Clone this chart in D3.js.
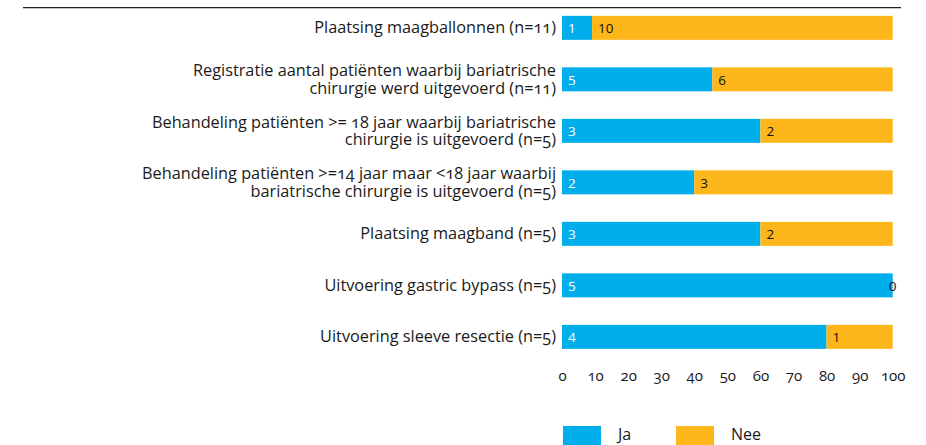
<!DOCTYPE html>
<html>
<head>
<meta charset="utf-8">
<script src="https://cdn.jsdelivr.net/npm/d3@7"></script>
<style>
  html, body { margin: 0; padding: 0; background: #fff; }
  svg { display: block; font-family: "Open Sans", "Noto Sans", sans-serif; }
  .cat, .tick text, .legend text { font-variant-numeric: oldstyle-nums; font-feature-settings: "onum" 1; }
</style>
</head>
<body>
<svg id="chart" width="926" height="445"></svg>
<script>
// Bariatric surgery indicators: number of hospitals answering "Ja" / "Nee"
const categories = [
  "Plaatsing maagballonnen (n=11)",
  "Registratie aantal patiënten waarbij bariatrische\nchirurgie werd uitgevoerd (n=11)",
  "Behandeling patiënten >= 18 jaar waarbij bariatrische\nchirurgie is uitgevoerd (n=5)",
  "Behandeling patiënten >=14 jaar maar <18 jaar waarbij\nbariatrische chirurgie is uitgevoerd (n=5)",
  "Plaatsing maagband (n=5)",
  "Uitvoering gastric bypass (n=5)",
  "Uitvoering sleeve resectie (n=5)"
];
const jaCounts  = [1, 5, 3, 2, 3, 5, 4];
const neeCounts = [10, 6, 2, 3, 2, 0, 1];
const seriesNames = ["Ja", "Nee"];
const seriesColors = ["#01aeec", "#fdb71a"];
const tickValues = [0, 10, 20, 30, 40, 50, 60, 70, 80, 90, 100];

const svg = d3.select("#chart");

const x = d3.scaleLinear().domain([0, 100]).range([562, 892.7]);
const y = d3.scaleBand().domain(categories).range([2.1, 362.6])
  .paddingInner(0.534).paddingOuter(0.267);

// top rule
svg.append("line")
  .attr("x1", 23).attr("x2", 901).attr("y1", 7.6).attr("y2", 7.6)
  .attr("stroke", "#222").attr("stroke-width", 1.4);

// stacked 100% segments built from the counts
const rows = categories.map((c, i) => {
  const total = jaCounts[i] + neeCounts[i];
  const jaPct = jaCounts[i] / total * 100;
  return {
    cat: c,
    segs: [
      { key: 0, count: jaCounts[i], x0: 0, x1: jaPct },
      { key: 1, count: neeCounts[i], x0: jaPct, x1: 100 }
    ]
  };
});

const rowG = svg.append("g").selectAll("g").data(rows).join("g")
  .attr("transform", d => `translate(0,${y(d.cat)})`);

rowG.selectAll("rect").data(d => d.segs).join("rect")
  .attr("x", s => x(s.x0))
  .attr("width", s => x(s.x1) - x(s.x0))
  .attr("y", 0)
  .attr("height", y.bandwidth())
  .attr("fill", s => seriesColors[s.key]);

rowG.selectAll("text.val").data(d => d.segs).join("text")
  .attr("class", "val")
  .attr("x", s => s.x1 > s.x0 ? x(s.x0) + 6 : x(s.x0))
  .attr("text-anchor", s => s.x1 > s.x0 ? "start" : "middle")
  .attr("y", y.bandwidth() / 2 + 5.5)
  .attr("font-size", 13.5)
  .attr("fill", s => s.key === 0 ? "#fff" : "#111")
  .text(s => s.count);

// category labels (one or two lines)
const labelG = svg.append("g").selectAll("text").data(categories).join("text")
  .attr("class", "cat")
  .attr("text-anchor", "end")
  .attr("font-size", 16.3)
  .attr("fill", "#1a1a1a");
labelG.each(function(c) {
  const lines = c.split("\n");
  const cy = y(c) + y.bandwidth() / 2;
  const lh = 17.5;
  const t = d3.select(this);
  lines.forEach((ln, k) => {
    t.append("tspan")
      .attr("x", 556)
      .attr("y", cy + (k - (lines.length - 1) / 2) * lh + 5.5)
      .text(ln);
  });
});

// x axis labels
const axis = d3.axisBottom(x).tickValues(tickValues).tickSize(0).tickPadding(0);
const axG = svg.append("g").attr("transform", "translate(0,370)").call(axis);
axG.select(".domain").remove();
axG.selectAll("text").attr("font-size", 15).attr("font-family", "'Open Sans', sans-serif").attr("fill", "#1a1a1a");

// legend
const legend = svg.append("g").attr("class", "legend").selectAll("g").data(seriesNames).join("g")
  .attr("transform", (d, i) => `translate(${563 + i * 113},426)`);
legend.append("rect").attr("width", 38).attr("height", 19).attr("fill", (d, i) => seriesColors[i]);
legend.append("text").attr("x", 55).attr("y", 14).attr("font-size", 16).attr("fill", "#1a1a1a").text(d => d);
</script>
</body>
</html>
